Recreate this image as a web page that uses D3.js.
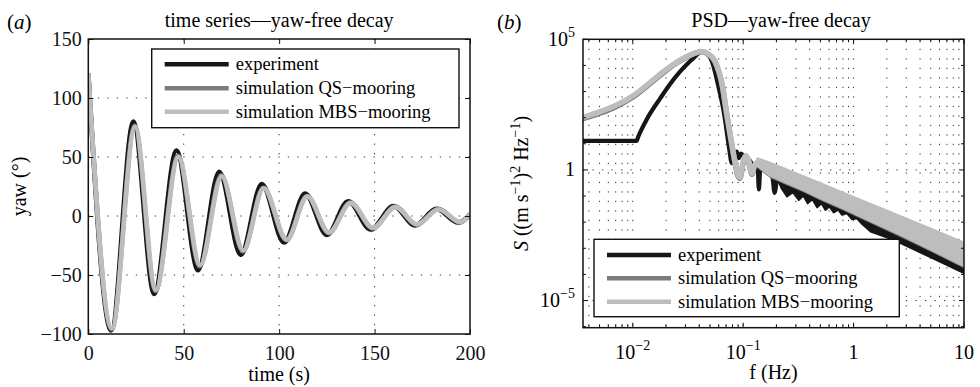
<!DOCTYPE html>
<html>
<head>
<meta charset="utf-8">
<script src="https://d3js.org/d3.v7.min.js"></script>
<style>
  body { margin: 0; background: #fff; }
  svg { font-family: "Liberation Serif", "DejaVu Serif", serif; }
  .grid line { stroke: #333; stroke-width: 1; stroke-dasharray: 1.3,8.2; }
  .frame { fill: none; stroke: #111; stroke-width: 1.5; }
</style>
</head>
<body>
<script>

// ---- (a) time series: turning points ----
var timeTicks = [0, 50, 100, 150, 200];
var yawTicks = [-100, -50, 0, 50, 100, 150];

var expT   = [0, 12.0, 23.6, 34.5, 46.2, 57.5, 68.6, 79.9, 90.9, 102.6, 113.6, 125.0, 136.2, 148.0, 159.9, 171.2, 182.4, 193.8, 200];
var expYaw = [121, -97, 80, -66, 55.5, -46, 37.5, -33, 27, -22.5, 19, -16, 12.5, -11.5, 8.5, -8, 6, -5.5, 1];

var qsT    = [0, 12.3, 24.3, 35.2, 47.0, 58.4, 69.7, 81.0, 91.7, 103.8, 114.6, 126.0, 137.3, 149.0, 160.8, 172.1, 183.3, 194.8, 200];
var qsYaw  = [121, -96, 76.5, -63.5, 51, -42.5, 34.5, -30, 24, -20.5, 17, -14.5, 11.5, -10.5, 8, -7.5, 6, -5.5, 2];

var mbsT   = [0, 12.4, 24.5, 35.4, 47.2, 58.6, 69.9, 81.2, 91.9, 104.0, 114.8, 126.2, 137.5, 149.2, 161.0, 172.3, 183.5, 195.0, 200];
var mbsYaw = [121, -95, 75.5, -62.5, 50, -41.5, 33.5, -29, 23.5, -20, 16.5, -14, 11, -10, 7.5, -7, 5.5, -5, 1.5];

// ---- (b) PSD, values as log10 ----
var freqTickExp = [-2, -1, 0, 1];
var psdTickExp = [-5, 0, 5];

var expLogF = [-2.46, -2.2, -1.966, -1.949, -1.873, -1.75, -1.66, -1.57, -1.50, -1.45, -1.41, -1.376, -1.33, -1.283, -1.228, -1.171, -1.132, -1.102, -1.08, -1.058, -1.04, -1.02, -1.0, -0.975, -0.95, -0.92, -0.89, -0.87, -0.858, -0.845, -0.81, -0.775, -0.74, -0.715, -0.695];
var expLogS = [1.11, 1.11, 1.11, 1.29, 1.94, 2.75, 3.30, 3.77, 4.08, 4.28, 4.44, 4.52, 4.45, 4.15, 3.26, 2.10, 0.96, 0.26, 0.55, 0.70, 0.45, 0.62, 0.55, 0.35, 0.40, 0.22, 0.10, 0.15, -0.75, 0.05, -0.02, -0.10, -0.15, -0.88, -0.25];
var expBandF  = [-0.695, -0.65, -0.603, -0.55, -0.497, -0.455, -0.416, -0.373, -0.330, -0.29, -0.255, -0.22, -0.180, -0.14, -0.104, -0.06, -0.013, 0.03, 0.078, 0.154, 0.3, 0.426, 0.7, 1.0];
var expBandLo = [-0.3, -0.72, -1.02, -0.85, -1.15, -0.98, -1.28, -1.12, -1.43, -1.28, -1.53, -1.40, -1.63, -1.52, -1.72, -1.66, -1.89, -1.85, -2.07, -2.36, -2.58, -2.8, -3.35, -3.95];
var expBandHi = [-0.1, -0.2, -0.3, -0.38, -0.46, -0.53, -0.6, -0.67, -0.74, -0.8, -0.86, -0.92, -0.99, -1.05, -1.11, -1.18, -1.26, -1.33, -1.4, -1.53, -1.78, -2.0, -2.47, -2.98];

var qsLogF = [-2.46, -2.30, -2.145, -2.05, -1.964, -1.85, -1.72, -1.61, -1.51, -1.44, -1.376, -1.32, -1.255, -1.19, -1.147, -1.102, -1.072, -1.05, -1.03, -1.0, -0.975, -0.95, -0.92, -0.90, -0.87];
var qsLogS = [1.95, 2.17, 2.44, 2.66, 2.90, 3.28, 3.74, 4.08, 4.32, 4.46, 4.52, 4.44, 4.13, 3.22, 2.05, 0.92, 0.22, -0.2, -0.32, 0.26, 0.5, 0.3, -0.17, 0.1, 0.26];
var qsBandF  = [-0.87, -0.752, -0.6, -0.45, -0.3, -0.1, 0.154, 0.426, 0.7, 1.0];
var qsBandHi = [0.41, 0.23, -0.03, -0.29, -0.55, -0.9, -1.34, -1.81, -2.29, -2.82];
var qsBandLo = [0.11, -0.27, -0.55, -0.82, -1.13, -1.5, -2.0, -2.53, -3.09, -3.72];

var mbsLogF = [-2.46, -2.30, -2.145, -2.05, -1.964, -1.85, -1.72, -1.61, -1.51, -1.44, -1.376, -1.32, -1.253, -1.19, -1.147, -1.102, -1.072, -1.05, -1.03, -1.0, -0.975, -0.95, -0.92, -0.90, -0.87];
var mbsLogS = [2.00, 2.22, 2.49, 2.70, 2.94, 3.32, 3.77, 4.10, 4.34, 4.47, 4.53, 4.45, 4.15, 3.26, 2.10, 0.96, 0.26, -0.15, -0.28, 0.30, 0.55, 0.35, -0.13, 0.15, 0.30];
var mbsBandF  = [-0.87, -0.752, -0.6, -0.45, -0.3, -0.1, 0.154, 0.426, 0.7, 1.0];
var mbsBandHi = [0.45, 0.27, 0.01, -0.25, -0.51, -0.86, -1.30, -1.77, -2.25, -2.78];
var mbsBandLo = [0.15, -0.23, -0.51, -0.78, -1.09, -1.46, -1.96, -2.49, -3.05, -3.68];

var seriesNames = ["experiment", "simulation QS\u2212mooring", "simulation MBS\u2212mooring"];
var seriesColors = ["#161616", "#7c7c7c", "#bdbdbd"];

var W = 980, H = 387;
var svg = d3.select("body").append("svg").attr("width", W).attr("height", H);
var defs = svg.append("defs");

function zip(a, b) { return a.map(function(v, i) { return [v, b[i]]; }); }
function pow10(v) { return Math.pow(10, v); }

function legend(g, x0, y0, w, h, rowY) {
  g.append("rect").attr("x", x0).attr("y", y0).attr("width", w).attr("height", h)
    .attr("fill", "#fff").attr("stroke", "#111").attr("stroke-width", 1.4);
  seriesNames.forEach(function(n, i) {
    var yy = y0 + rowY[i];
    g.append("line").attr("x1", x0 + 13).attr("x2", x0 + 77).attr("y1", yy).attr("y2", yy)
      .attr("stroke", seriesColors[i]).attr("stroke-width", 4.5);
    g.append("text").attr("x", x0 + 84).attr("y", yy + 6).attr("font-size", 18.5).text(n);
  });
}

// =============== panel (a) ===============
var A = {left: 88.3, right: 470, top: 39, bottom: 334};
var xa = d3.scaleLinear().domain([0, 200]).range([A.left, A.right]);
var ya = d3.scaleLinear().domain([-100, 150]).range([A.bottom, A.top]);

defs.append("clipPath").attr("id", "clipA").append("rect")
  .attr("x", A.left).attr("y", A.top).attr("width", A.right - A.left).attr("height", A.bottom - A.top);

var ga = svg.append("g");
var gridA = ga.append("g").attr("class", "grid");
gridA.selectAll(".v").data(timeTicks.slice(1, -1)).enter().append("line")
  .attr("x1", xa).attr("x2", xa).attr("y1", A.top).attr("y2", A.bottom);
gridA.selectAll(".h").data(yawTicks.slice(1, -1)).enter().append("line")
  .attr("x1", A.left).attr("x2", A.right).attr("y1", ya).attr("y2", ya);

var lineA = d3.line().x(function(d) { return xa(d[0]); }).y(function(d) { return ya(d[1]); })
  .curve(d3.curveMonotoneX);
var seriesA = [zip(expT, expYaw), zip(qsT, qsYaw), zip(mbsT, mbsYaw)];
ga.append("g").attr("clip-path", "url(#clipA)").selectAll("path").data(seriesA).enter().append("path")
  .attr("d", lineA).attr("fill", "none")
  .attr("stroke", function(d, i) { return seriesColors[i]; })
  .attr("stroke-width", 4.6).attr("stroke-linejoin", "round");

function styleAxis(sel) {
  sel.select(".domain").remove();
  sel.attr("font-family", null).attr("font-size", 20).selectAll("text").attr("fill", "#111");
  sel.selectAll(".tick line").attr("stroke", "#111");
}

ga.append("g").attr("transform", "translate(0," + A.bottom + ")")
  .call(d3.axisBottom(xa).tickValues(timeTicks).tickSizeInner(-5).tickSizeOuter(0).tickPadding(12)).call(styleAxis);
ga.append("g").attr("transform", "translate(0," + A.top + ")")
  .call(d3.axisTop(xa).tickValues(timeTicks).tickSizeInner(-5).tickSizeOuter(0).tickFormat("")).call(styleAxis);
ga.append("g").attr("transform", "translate(" + A.left + ",0)")
  .call(d3.axisLeft(ya).tickValues(yawTicks).tickSizeInner(-5).tickSizeOuter(0).tickPadding(6.6)).call(styleAxis);
ga.append("g").attr("transform", "translate(" + A.right + ",0)")
  .call(d3.axisRight(ya).tickValues(yawTicks).tickSizeInner(-5).tickSizeOuter(0).tickFormat("")).call(styleAxis);

ga.append("rect").attr("class", "frame").attr("x", A.left).attr("y", A.top)
  .attr("width", A.right - A.left).attr("height", A.bottom - A.top);

legend(ga, 151.7, 49, 307.3, 78.7, [15.3, 39.3, 62.7]);

ga.append("text").attr("x", (A.left + A.right) / 2).attr("y", 27).attr("text-anchor", "middle")
  .attr("font-size", 20).text("time series\u2014yaw-free decay");
ga.append("text").attr("x", (A.left + A.right) / 2).attr("y", 381).attr("text-anchor", "middle")
  .attr("font-size", 20).text("time (s)");
ga.append("text").attr("transform", "translate(26," + ((A.top + A.bottom) / 2) + ") rotate(-90)")
  .attr("text-anchor", "middle").attr("font-size", 20).text("yaw (\u00b0)");
var la = ga.append("text").attr("x", 7).attr("y", 29).attr("font-size", 21);
la.append("tspan").text("(");
la.append("tspan").attr("font-style", "italic").text("a");
la.append("tspan").text(")");

// =============== panel (b) ===============
var B = {left: 583, right: 964, top: 39.3, bottom: 327.7};
var xb = d3.scaleLog().domain([pow10(-2.451), 10]).range([B.left, B.right]);
var yb = d3.scaleLog().domain([pow10(-6.04), pow10(5)]).range([B.bottom, B.top]);

defs.append("clipPath").attr("id", "clipB").append("rect")
  .attr("x", B.left).attr("y", B.top).attr("width", B.right - B.left).attr("height", B.bottom - B.top);

var gb = svg.append("g");
var gridB = gb.append("g").attr("class", "grid");
var minorF = xb.ticks().filter(function(v) { return xb(v) > B.left + 1 && xb(v) < B.right - 1; });
gridB.selectAll(".v").data(minorF).enter().append("line")
  .attr("x1", xb).attr("x2", xb).attr("y1", B.top).attr("y2", B.bottom);
gridB.selectAll(".h").data(psdTickExp.slice(0, -1).map(pow10)).enter().append("line")
  .attr("x1", B.left).attr("x2", B.right).attr("y1", yb).attr("y2", yb);

var lineB = d3.line().x(function(d) { return xb(pow10(d[0])); }).y(function(d) { return yb(pow10(d[1])); })
  .curve(d3.curveMonotoneX);
var areaB = d3.area().x(function(d) { return xb(pow10(d[0])); })
  .y0(function(d) { return yb(pow10(d[1])); }).y1(function(d) { return yb(pow10(d[2])); });

var bandsB = [
  expBandF.map(function(f, i) { return [f, expBandLo[i], expBandHi[i]]; }),
  qsBandF.map(function(f, i) { return [f, qsBandLo[i], qsBandHi[i]]; }),
  mbsBandF.map(function(f, i) { return [f, mbsBandLo[i], mbsBandHi[i]]; })
];
var linesB = [zip(expLogF, expLogS), zip(qsLogF, qsLogS), zip(mbsLogF, mbsLogS)];

var plotB = gb.append("g").attr("clip-path", "url(#clipB)");
[0, 1, 2].forEach(function(i) {
  plotB.append("path").attr("d", areaB(bandsB[i])).attr("fill", seriesColors[i])
    .attr("stroke", seriesColors[i]).attr("stroke-width", 2).attr("stroke-linejoin", "round");
  plotB.append("path").attr("d", lineB(linesB[i])).attr("fill", "none")
    .attr("stroke", seriesColors[i]).attr("stroke-width", i === 0 ? 4.2 : 5.5).attr("stroke-linejoin", "round");
});

// ticks (inside), major + minor
var majorF = freqTickExp.map(pow10);
var majorS = psdTickExp.map(pow10);
var minorS = d3.range(-6, 5).map(pow10).filter(function(v) { return majorS.indexOf(v) < 0 && v >= yb.domain()[0]; });
var tk = gb.append("g").attr("stroke", "#111").attr("stroke-width", 1);
function ticksX(vals, len) {
  vals.forEach(function(v) {
    tk.append("line").attr("x1", xb(v)).attr("x2", xb(v)).attr("y1", B.bottom).attr("y2", B.bottom - len);
    tk.append("line").attr("x1", xb(v)).attr("x2", xb(v)).attr("y1", B.top).attr("y2", B.top + len);
  });
}
function ticksY(vals, len) {
  vals.forEach(function(v) {
    tk.append("line").attr("y1", yb(v)).attr("y2", yb(v)).attr("x1", B.left).attr("x2", B.left + len);
    tk.append("line").attr("y1", yb(v)).attr("y2", yb(v)).attr("x1", B.right).attr("x2", B.right - len);
  });
}
ticksX(majorF, 5); ticksX(minorF.filter(function(v) { return majorF.indexOf(v) < 0; }), 3);
ticksY(majorS, 5); ticksY(minorS, 3);

gb.append("rect").attr("class", "frame").attr("x", B.left).attr("y", B.top)
  .attr("width", B.right - B.left).attr("height", B.bottom - B.top);

function powLabel(t, e) {
  if (e === 0) { t.text("1"); return; }
  t.append("tspan").text("10");
  if (e !== 1) t.append("tspan").attr("font-size", 14).attr("dy", -9)
    .text(e < 0 ? "\u2212" + (-e) : String(e));
}
freqTickExp.forEach(function(e) {
  var t = gb.append("text").attr("x", xb(pow10(e))).attr("y", 359).attr("text-anchor", "middle").attr("font-size", 20);
  powLabel(t, e);
});
psdTickExp.forEach(function(e) {
  var t = gb.append("text").attr("x", 575).attr("y", yb(pow10(e)) + 6.5).attr("text-anchor", "end").attr("font-size", 20);
  powLabel(t, e);
});

legend(gb, 594, 239.3, 305.3, 77.4, [15.7, 39, 62.4]);

gb.append("text").attr("x", 781).attr("y", 27).attr("text-anchor", "middle")
  .attr("font-size", 20).text("PSD\u2014yaw-free decay");
gb.append("text").attr("x", (B.left + B.right) / 2).attr("y", 379).attr("text-anchor", "middle")
  .attr("font-size", 20).text("f (Hz)");

var yl = gb.append("text").attr("transform", "translate(528," + ((B.top + B.bottom) / 2) + ") rotate(-90)")
  .attr("text-anchor", "middle").attr("font-size", 20);
yl.append("tspan").attr("font-style", "italic").text("S");
yl.append("tspan").text(" ((m s");
yl.append("tspan").attr("font-size", 14).attr("dy", -8).text("\u22121");
yl.append("tspan").attr("dy", 8).text(")");
yl.append("tspan").attr("font-size", 14).attr("dy", -8).text("2");
yl.append("tspan").attr("dy", 8).text(" Hz");
yl.append("tspan").attr("font-size", 14).attr("dy", -8).text("\u22121");
yl.append("tspan").attr("dy", 8).text(")");

var lb = gb.append("text").attr("x", 497).attr("y", 29).attr("font-size", 21);
lb.append("tspan").text("(");
lb.append("tspan").attr("font-style", "italic").text("b");
lb.append("tspan").text(")");

</script>
</body>
</html>
